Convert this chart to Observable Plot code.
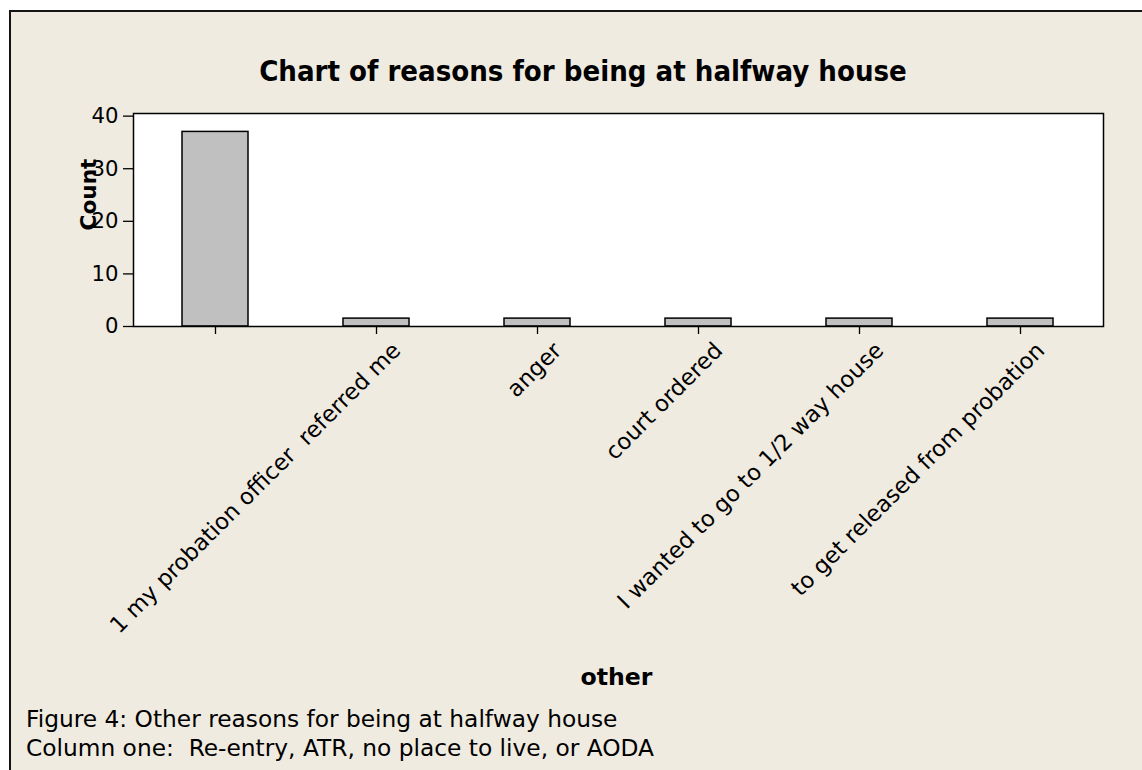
<!DOCTYPE html>
<html><head><meta charset="utf-8">
<script src="https://cdn.jsdelivr.net/npm/d3@7"></script>
<script src="https://cdn.jsdelivr.net/npm/@observablehq/plot@0.6"></script>
<style>
html,body{margin:0;padding:0;background:#fff;width:1142px;height:770px;overflow:hidden;}
#box{position:absolute;left:9px;top:10px;width:1200px;height:800px;background:#efebe0;border-top:2px solid #141414;border-left:2px solid #141414;}
#chart{position:absolute;left:0;top:0;}
.t{position:absolute;white-space:pre;font-family:"DejaVu Sans",sans-serif;color:#000;line-height:1.164;}
</style></head><body>
<div id="box"></div>
<div id="chart"></div>
<div id="title" class="t" style="font-weight:bold"></div>
<div id="cap1" class="t"></div>
<div id="cap2" class="t"></div>
<script>
// ---- data ----
const categories = ["", "1 my probation officer  referred me", "anger", "court ordered", "I wanted to go to 1/2 way house", "to get released from probation"];
const counts = [37, 1.5, 1.5, 1.5, 1.5, 1.5];
const yTicks = [0, 10, 20, 30, 40];
const titleText = "Chart of reasons for being at halfway house";
const xLabel = "other";
const yLabel = "Count";
const captionLines = ["Figure 4: Other reasons for being at halfway house", "Column one:  Re-entry, ATR, no place to live, or AODA"];

const FAMILY = '"DejaVu Sans"';
const TITLE_FAMILY = '"DejaVu Sans Condensed", "DejaVu Sans"';
const ctx = document.createElement("canvas").getContext("2d");
function fit(text, weight, target, family = FAMILY) {
  ctx.font = `${weight} 100px ${family}`;
  return 100 * target / ctx.measureText(text).width;
}
const titleFs = fit(titleText, "bold", 648, TITLE_FAMILY);
const capFs = fit(captionLines[0], "normal", 592);
const countFs = fit(yLabel, "bold", 72);
const otherFs = fit(xLabel, "bold", 72);
const xFs = fit(categories[1], "normal", 400);
const yFs = fit("40", "normal", 27);

const rows = categories.map((c, i) => ({cat: c, n: counts[i]}));

const plot = Plot.plot({
  width: 1142, height: 700,
  marginLeft: 133, marginRight: 39, marginTop: 113, marginBottom: 374,
  style: {background: "transparent", color: "#000", fontFamily: "DejaVu Sans", overflow: "visible", whiteSpace: "pre"},
  x: {type: "band", domain: categories, paddingInner: 0.59, paddingOuter: 0.29, label: null},
  y: {domain: [0, 40.5], label: null},
  marks: [
    Plot.frame({fill: "#fff"}),
    Plot.barY(rows, {x: "cat", y: "n", fill: "#c0c0c0", stroke: "#000", strokeWidth: 1.5}),
    Plot.frame({stroke: "#000", strokeWidth: 1.5}),
    Plot.axisY({ticks: yTicks, tickSize: 10, tickPadding: 5, fontSize: yFs, label: null, strokeWidth: 1.3}),
    Plot.axisX({tickSize: 8, tickFormat: () => "", label: null, strokeWidth: 1.3}),
    Plot.text(categories, {x: d => d, text: d => d, frameAnchor: "bottom", rotate: -45, textAnchor: "end", lineAnchor: "top", dx: 14, dy: 14, fontSize: xFs}),
    Plot.text([yLabel], {text: d => d, frameAnchor: "left", rotate: -90, textAnchor: "middle", lineAnchor: "middle", dx: -44, dy: -25.5, fontWeight: "bold", fontSize: countFs}),
    Plot.text([xLabel], {text: d => d, frameAnchor: "bottom", textAnchor: "middle", lineAnchor: "middle", dx: -2, dy: 684 - 326 - 0.32 * otherFs, fontWeight: "bold", fontSize: otherFs})
  ]
});
document.getElementById("chart").appendChild(plot);

const t = document.getElementById("title");
t.textContent = titleText;
t.style.fontFamily = TITLE_FAMILY + ", sans-serif";
t.style.fontSize = titleFs + "px";
t.style.left = "583px";
t.style.transform = "translateX(-50%)";
t.style.top = (82 - 0.928 * titleFs) + "px";

const baselines = [727, 756];
["cap1", "cap2"].forEach((id, i) => {
  const el = document.getElementById(id);
  el.textContent = captionLines[i];
  el.style.fontSize = capFs + "px";
  el.style.left = "26px";
  el.style.top = (baselines[i] - 0.928 * capFs) + "px";
});
</script>
</body></html>
